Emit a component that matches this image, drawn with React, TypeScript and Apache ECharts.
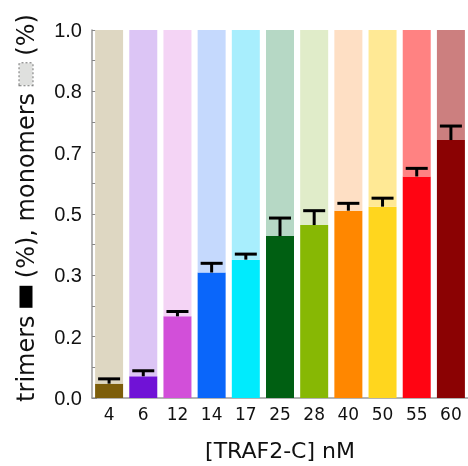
import React, { useEffect, useRef } from "react";
import * as echarts from "echarts";

const concentrations = ["4", "6", "12", "14", "17", "25", "28", "40", "50", "55", "60"];
const trimers = [0.039, 0.059, 0.222, 0.341, 0.376, 0.44, 0.47, 0.509, 0.52, 0.602, 0.701];
const errorTops = [0.052, 0.074, 0.235, 0.366, 0.391, 0.489, 0.509, 0.529, 0.543, 0.624, 0.739];
const trimerColors = ["#7d5e0b", "#7012d6", "#d24fd9", "#0a66fa", "#00ebfd", "#005f12", "#87b804", "#ff8700", "#ffd61e", "#ff0412", "#8b0203"];
const monomerColors = ["#ded7c2", "#dcc5f5", "#f4d4f5", "#c5d9fd", "#a8eefd", "#b6d8c5", "#e0ecc9", "#fedfc4", "#ffe995", "#ff8282", "#cc7f7f"];

export default function App() {
  const ref = useRef<HTMLDivElement>(null);
  useEffect(() => {
    if (!ref.current) return;
    const chart = echarts.init(ref.current, null, { renderer: "svg" });
    const monomers = trimers.map((t) => 1 - t);
    chart.setOption({
      animation: false,
      grid: { left: 92, top: 30, width: 381, height: 370 },
      xAxis: {
        type: "category",
        data: concentrations,
        name: "[TRAF2-C] nM",
        nameLocation: "middle",
        nameGap: 41,
        nameTextStyle: { fontFamily: "DejaVu Sans", fontSize: 22, color: "#111" },
        axisLine: { lineStyle: { color: "#999", width: 1.5 } },
        axisTick: { inside: true, length: 4, lineStyle: { color: "#888" } },
        axisLabel: { fontFamily: "DejaVu Sans", fontSize: 17, color: "#111", margin: 7 },
      },
      yAxis: {
        type: "value",
        min: 0,
        max: 1,
        interval: 1 / 6,
        name: "trimers {b|} (%), monomers {d|} (%)",
        nameLocation: "middle",
        nameRotate: 90,
        nameGap: 54,
        nameTextStyle: {
          fontFamily: "DejaVu Sans",
          fontSize: 24,
          color: "#111",
          padding: [0, 0, 0, 12],
          rich: {
            b: { width: 22, height: 13, backgroundColor: "#000" },
            d: { width: 22, height: 13, backgroundColor: "#dfe0de", borderColor: "#777", borderWidth: 1, borderType: "dotted" },
          },
        },
        axisLine: { show: true, lineStyle: { color: "#999", width: 1.5 } },
        axisTick: { show: true, inside: true, length: 5, lineStyle: { color: "#888" } },
        minorTick: { show: true, splitNumber: 2, length: 5, lineStyle: { color: "#888" } },
        splitLine: { show: false },
        axisLabel: {
          fontFamily: "Liberation Sans",
          fontSize: 20,
          color: "#111",
          margin: 10,
          padding: [0, 0, 9, 0],
          formatter: (v: number) => v.toFixed(1),
        },
      },
      series: [
        {
          type: "bar",
          stack: "s",
          barWidth: 28,
          data: trimers.map((v, i) => ({ value: v, itemStyle: { color: trimerColors[i] } })),
        },
        {
          type: "bar",
          stack: "s",
          barWidth: 28,
          data: monomers.map((v, i) => ({ value: v, itemStyle: { color: monomerColors[i] } })),
        },
        {
          type: "custom",
          z: 10,
          data: trimers.map((v, i) => [i, v, errorTops[i]]),
          renderItem: (params: any, api: any) => {
            const idx = api.value(0);
            const base = api.coord([idx, api.value(1)]);
            const top = api.coord([idx, api.value(2)]);
            const style = { stroke: "#000", lineWidth: 3 };
            return {
              type: "group",
              children: [
                { type: "line", shape: { x1: base[0], y1: base[1], x2: top[0], y2: top[1] }, style },
                { type: "line", shape: { x1: top[0] - 11, y1: top[1], x2: top[0] + 11, y2: top[1] }, style },
              ],
            };
          },
        },
      ],
    });
    return () => chart.dispose();
  }, []);
  return <div ref={ref} style={{ position: "fixed", left: 0, top: 0, width: 468, height: 466 }} />;
}
